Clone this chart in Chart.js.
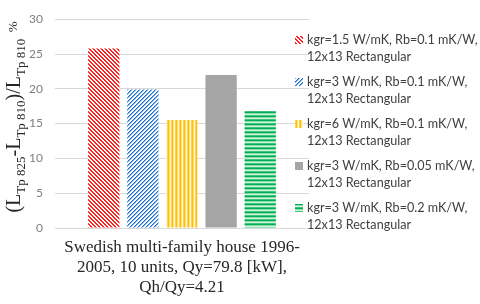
<!DOCTYPE html>
<html>
<head>
<meta charset="utf-8">
<script src="https://cdn.jsdelivr.net/npm/chart.js@4"></script>
<style>
  html, body { margin: 0; padding: 0; background: #fff; }
  #wrap { width: 480px; height: 304px; }
</style>
</head>
<body>
<div id="wrap"><canvas id="chart" width="480" height="304"></canvas></div>
<script>
// data
const categories = [["Swedish multi-family house 1996-", "2005, 10 units, Qy=79.8 [kW],", "Qh/Qy=4.21"]];
const seriesLabels = [
    ["kgr=1.5 W/mK, Rb=0.1 mK/W,", "12x13 Rectangular"],
    ["kgr=3 W/mK, Rb=0.1 mK/W,", "12x13 Rectangular"],
    ["kgr=6 W/mK, Rb=0.1 mK/W,", "12x13 Rectangular"],
    ["kgr=3 W/mK, Rb=0.05 mK/W,", "12x13 Rectangular"],
    ["kgr=3 W/mK, Rb=0.2 mK/W,", "12x13 Rectangular"]
];
const seriesValues = [25.8, 19.9, 15.5, 22.0, 16.8];
const yTicks = [0, 5, 10, 15, 20, 25, 30];

// small pixel tiles for the hatch fills
function makePattern(size, pick) {
    const c = document.createElement("canvas");
    c.width = size; c.height = size;
    const g = c.getContext("2d");
    for (let y = 0; y < size; y++) {
        for (let x = 0; x < size; x++) {
            g.fillStyle = pick(x, y);
            g.fillRect(x, y, 1, 1);
        }
    }
    return g.createPattern(c, "repeat");
}

const ctx = document.getElementById("chart").getContext("2d");

const redHatch = makePattern(4, (x, y) => ((x - y + 8) % 4 < 2) ? "#ff2020" : "#ffffff");
const blueHatch = makePattern(4, (x, y) => ((x + y) % 4 === 0) ? "#1f6fd0" : (((x + y) % 4 === 1) ? "#7fb0e8" : "#ffffff"));
const yellowCols = ["#ffc000", "#ffe08a", "#fff6dc", "#ffd34d"];
const yellowHatch = makePattern(4, (x, y) => yellowCols[x]);
const greenRows = ["#00b050", "#86dbab", "#d3f3e0", "#3fc27a"];
const greenHatch = makePattern(4, (x, y) => greenRows[y]);

const fills = [redHatch, blueHatch, yellowHatch, "#a5a5a5", greenHatch];

// y axis title with subscripts, drawn by hand
const yTitlePlugin = {
    id: "yTitle",
    afterDraw(chart) {
        const c = chart.ctx;
        const parts = [
            ["(L", 0], ["Tp 825", 1], ["-L", 0], ["Tp 810", 1], [")/L", 0], ["Tp 810", 1], ["  %", 2]
        ];
        const big = "20px 'Liberation Serif'";
        const small = "13px 'Liberation Serif'";
        c.save();
        let total = 0;
        parts.forEach(p => {
            c.font = p[1] === 0 ? big : small;
            total += c.measureText(p[0]).width;
        });
        c.translate(20, 117);
        c.rotate(-Math.PI / 2);
        c.fillStyle = "#262626";
        c.textBaseline = "alphabetic";
        let x = -total / 2;
        parts.forEach(p => {
            c.font = p[1] === 0 ? big : small;
            let dy = 0;
            if (p[1] === 1) dy = 5;
            if (p[1] === 2) dy = -3;
            c.fillText(p[0], x, dy);
            x += c.measureText(p[0]).width;
        });
        c.restore();
    }
};

// two-line legend on the right
const legendPlugin = {
    id: "sideLegend",
    afterDraw(chart) {
        const c = chart.ctx;
        c.save();
        c.font = "12.6px Lato";
        c.textBaseline = "middle";
        seriesLabels.forEach((lines, i) => {
            const y0 = 40 + i * 42;
            c.fillStyle = fills[i];
            c.fillRect(295, y0 - 4, 8, 8);
            c.fillStyle = "#404040";
            c.fillText(lines[0], 307, y0);
            c.fillText(lines[1], 307, y0 + 17);
        });
        c.restore();
    }
};

new Chart(ctx, {
    type: "bar",
    data: {
        labels: categories,
        datasets: seriesValues.map((v, i) => ({
            label: seriesLabels[i].join(" "),
            data: [v],
            backgroundColor: fills[i],
            borderWidth: 0,
            barPercentage: 0.8,
            categoryPercentage: 0.77
        }))
    },
    options: {
        responsive: false,
        animation: false,
        layout: { padding: { top: 6, right: 171, left: 0, bottom: 0 } },
        plugins: {
            legend: { display: false },
            tooltip: { enabled: false }
        },
        scales: {
            x: {
                grid: { display: false, drawTicks: false },
                border: { color: "#d9d9d9" },
                ticks: {
                    color: "#262626",
                    font: { family: "'Liberation Serif'", size: 17, lineHeight: 1.2 },
                    padding: 9,
                    maxRotation: 0
                },
                afterFit(scale) { scale.height = 76; }
            },
            y: {
                min: 0,
                max: 30,
                afterBuildTicks(scale) { scale.ticks = yTicks.map(v => ({ value: v })); },
                grid: { color: "#d9d9d9", drawTicks: false },
                border: { display: false },
                ticks: {
                    color: "#7f7f7f",
                    font: { family: "Lato", size: 12 },
                    padding: 12
                },
                afterFit(scale) { scale.width = 55; }
            }
        }
    },
    plugins: [yTitlePlugin, legendPlugin]
});
</script>
</body>
</html>
